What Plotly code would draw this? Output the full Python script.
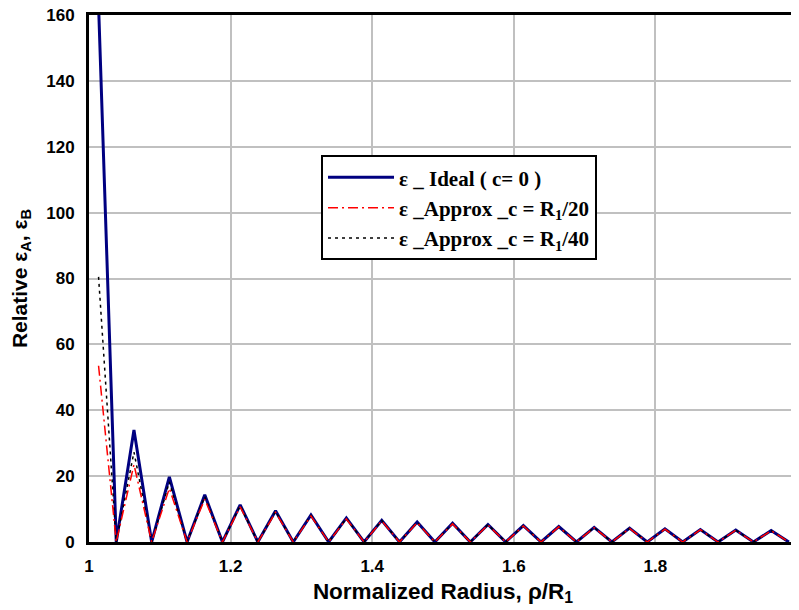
import plotly.graph_objects as go

# Normalized radius rho/R1 (sample points)
radius = [1.0135, 1.0385, 1.0635, 1.0885, 1.1135, 1.1385, 1.1635, 1.1885, 1.2135, 1.2385,
          1.2635, 1.2885, 1.3135, 1.3385, 1.3635, 1.3885, 1.4135, 1.4385, 1.4635, 1.4885,
          1.5135, 1.5385, 1.5635, 1.5885, 1.6135, 1.6385, 1.6635, 1.6885, 1.7135, 1.7385,
          1.7635, 1.7885, 1.8135, 1.8385, 1.8635, 1.8885, 1.9135, 1.9385, 1.9635, 1.9885]

eps_ideal = [163, 0, 34, 0, 19.8, 0, 14.3, 0, 11.3, 0,
             9.5, 0, 8.2, 0, 7.3, 0, 6.6, 0, 6.1, 0,
             5.7, 0, 5.3, 0, 5.0, 0, 4.7, 0, 4.45, 0,
             4.2, 0, 4.0, 0, 3.8, 0, 3.65, 0, 3.5, 0]

eps_c20 = [53.5, 0, 23.5, 0, 16.3, 0, 13.0, 0, 10.7, 0,
           9.0, 0, 7.9, 0, 7.0, 0, 6.4, 0, 5.9, 0,
           5.5, 0, 5.15, 0, 4.85, 0, 4.6, 0, 4.35, 0,
           4.1, 0, 3.9, 0, 3.72, 0, 3.57, 0, 3.43, 0]

eps_c40 = [80.5, 0, 27.3, 0, 18.2, 0, 13.8, 0, 11.0, 0,
           9.3, 0, 8.05, 0, 7.15, 0, 6.5, 0, 6.0, 0,
           5.6, 0, 5.25, 0, 4.95, 0, 4.65, 0, 4.4, 0,
           4.15, 0, 3.95, 0, 3.76, 0, 3.6, 0, 3.46, 0]

names = ["<b>ε _ Ideal ( c= 0 )</b>",
         "<b>ε _Approx _c = R<sub>1</sub>/20</b>",
         "<b>ε _Approx _c = R<sub>1</sub>/40</b>"]

x_ticks = [1, 1.2, 1.4, 1.6, 1.8, 2]
x_ticklabels = ["1", "1.2", "1.4", "1.6", "1.8", "2"]
y_ticks = [0, 20, 40, 60, 80, 100, 120, 140, 160]

fig = go.Figure()
fig.add_trace(go.Scatter(x=radius, y=eps_ideal, mode="lines", name=names[0], legendrank=1,
                         line=dict(color="#000080", width=3)))
fig.add_trace(go.Scatter(x=radius, y=eps_c40, mode="lines", name=names[2], legendrank=3,
                         line=dict(color="black", width=1.5, dash="3px,4px")))
fig.add_trace(go.Scatter(x=radius, y=eps_c20, mode="lines", name=names[1], legendrank=2,
                         line=dict(color="red", width=1.5, dash="10px,4px,2px,4px")))

sans = "Liberation Sans, Arial, sans-serif"
tick_font = dict(family=sans, size=17, color="black", weight="bold")
xtitle_font = dict(family=sans, size=22.5, color="black", weight="bold")
ytitle_font = dict(family=sans, size=21, color="black", weight="bold")

# the page body adds an 8px offset, so the figure is sized 8px smaller
fig.update_layout(
    width=791, height=602,
    margin=dict(l=81, r=2, t=7, b=68),
    paper_bgcolor="white", plot_bgcolor="white",
    showlegend=True,
    legend=dict(x=0.3277, y=0.734, xanchor="left", yanchor="top",
                bgcolor="white", bordercolor="black", borderwidth=2,
                font=dict(family="Liberation Serif, Times New Roman, serif", size=21, color="black"),
                tracegroupgap=0, itemwidth=66, entrywidth=285),
    xaxis=dict(range=[1, 2], tickvals=x_ticks, ticktext=x_ticklabels, automargin=False,
               ticklabeloverflow="allow",
               showgrid=True, gridcolor="#c0c0c0", gridwidth=2,
               showline=True, linecolor="black", linewidth=3, mirror=True,
               zeroline=False, ticks="outside", ticklen=7, tickcolor="rgba(0,0,0,0)",
               tickfont=tick_font,
               title=dict(text="Normalized Radius, ρ/R<sub>1</sub>", font=xtitle_font, standoff=8)),
    yaxis=dict(range=[0, 160], tickvals=y_ticks, automargin=False,
               ticklabeloverflow="allow",
               showgrid=True, gridcolor="#c0c0c0", gridwidth=2,
               showline=True, linecolor="black", linewidth=3, mirror=True,
               zeroline=False, ticks="outside", ticklen=8, tickcolor="rgba(0,0,0,0)",
               tickfont=tick_font,
               title=dict(text="Relative ε<sub>A</sub>, ε<sub>B</sub>", font=ytitle_font, standoff=14)),
)

fig.write_html("out.html")
